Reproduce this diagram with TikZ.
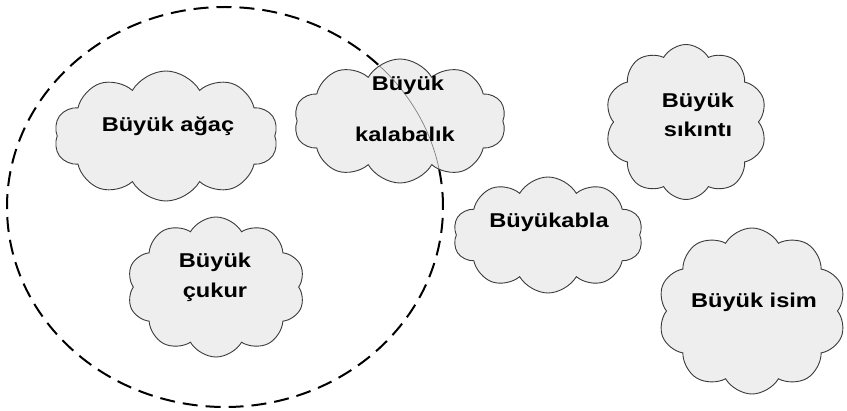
\documentclass[tikz,border=0pt]{standalone}
\usepackage{fontspec}
\setmainfont{Liberation Sans}[FakeStretch=1.18]
\usetikzlibrary{shapes.symbols,shapes.geometric}
\definecolor{cloudfill}{HTML}{EEEEEE}
\definecolor{cloudline}{HTML}{3A3A3A}
\tikzset{
  puff/.style={cloud, cloud puffs=10, cloud puff arc=120, cloud ignores aspect,
    draw=cloudline, line width=0.9pt, fill=cloudfill, inner sep=0pt},
  word/.style={anchor=base, inner sep=0pt, font=\bfseries\fontsize{20}{24}\selectfont},
  groupring/.style={ellipse, draw, dash pattern=on 15pt off 8pt, line width=2pt,
    minimum width=436pt, minimum height=400pt, inner sep=0pt},
}
\begin{document}
\begin{tikzpicture}[x=1pt,y=-1pt]
\useasboundingbox (0,0) rectangle (847,411);
% dashed group ring, drawn first so clouds cover it
\node[groupring] (ring) at (225,207) {};
% clouds
\node[puff, minimum width=224pt, minimum height=130pt] (c1) at (166,136) {};
\node[puff, minimum width=212pt, minimum height=124pt,
  path picture={\draw[gray, line width=0.7pt] (ring.center) ellipse [x radius=218pt, y radius=200pt];}]
  (c2) at (400,121) {};
\node[puff, minimum width=178pt, minimum height=140pt] (c3) at (216,287) {};
\node[puff, minimum width=190pt, minimum height=116pt] (c4) at (548,235) {};
\node[puff, minimum width=162pt, minimum height=155pt] (c5) at (686,122) {};
\node[puff, minimum width=188pt, minimum height=166pt] (c6) at (752,311) {};
% labels
\node[word] (t1) at (168,132) {Büyük ağaç};
\node[word] (t2a) at (408,91) {Büyük};
\node[word] (t2b) at (405,142) {kalabalık};
\node[word] (t3a) at (215,268) {Büyük};
\node[word] (t3b) at (215,298) {çukur};
\node[word] (t4) at (549,228) {Büyükabla};
\node[word] (t5a) at (698,108) {Büyük};
\node[word] (t5b) at (698,137) {sıkıntı};
\node[word] (t6) at (754,308) {Büyük isim};
\end{tikzpicture}
\end{document}
